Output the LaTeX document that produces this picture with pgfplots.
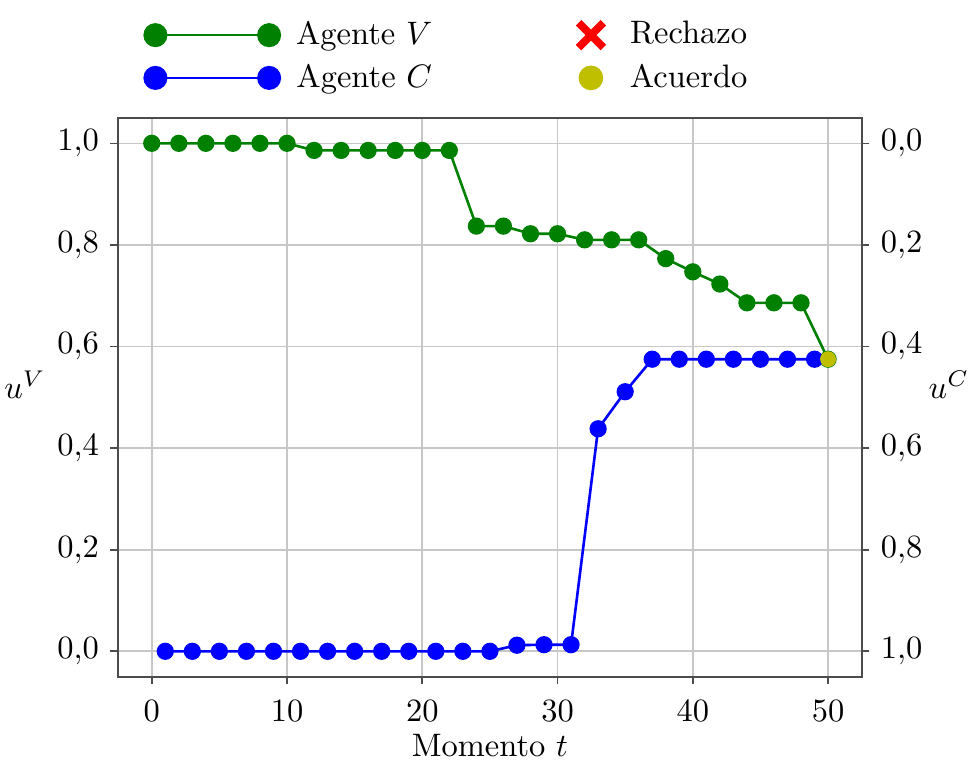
\documentclass[border=0pt]{standalone}
\usepackage{pgfplots}
\pgfplotsset{compat=1.18}
\definecolor{mgreen}{rgb}{0,0.5,0}
\definecolor{mblue}{rgb}{0,0,1}
\definecolor{myellow}{rgb}{0.75,0.75,0}
\pgfplotsset{
  lineleg/.style={legend image code/.code={\draw[##1] plot coordinates {(0pt,0pt) (35pt,0pt)};}},
  markleg/.style={legend image code/.code={\draw[##1] plot[only marks] coordinates {(0pt,0pt)};\path[draw=none,fill=none] (0pt,0pt) -- (7pt,0pt);}},
}
\pgfplotstableread{
t u
0 1.0
2 1.0
4 1.0
6 1.0
8 1.0
10 1.0
12 0.986
14 0.986
16 0.986
18 0.986
20 0.986
22 0.986
24 0.837
26 0.837
28 0.822
30 0.822
32 0.810
34 0.810
36 0.810
38 0.773
40 0.747
42 0.723
44 0.686
46 0.686
48 0.686
50 0.575
}\agentV
\pgfplotstableread{
t u
1 0.0
3 0.0
5 0.0
7 0.0
9 0.0
11 0.0
13 0.0
15 0.0
17 0.0
19 0.0
21 0.0
23 0.0
25 0.0
27 0.012
29 0.013
31 0.013
33 0.438
35 0.511
37 0.575
39 0.575
41 0.575
43 0.575
45 0.575
47 0.575
49 0.575
}\agentC
\begin{document}
\begin{tikzpicture}
\useasboundingbox (-36.3pt,-26.2pt) rectangle (263.2pt,208.3pt);
\pgfplotsset{
  common/.style={
    scale only axis, width=229pt, height=172pt,
    xmin=-2.5, xmax=52.5, ymin=-0.05, ymax=1.05,
    ytick={0,0.2,0.4,0.6,0.8,1},
    yticklabel style={/pgf/number format/.cd, use comma, fixed, fixed zerofill, precision=1},
    axis line style={black!70, line width=0.6pt},
    tick style={black!70, line width=0.5pt},
    tick align=outside, major tick length=2.3pt,
  }
}
\begin{axis}[common, name=main, at={(0pt,0pt)}, anchor=south west,
  xtick={0,10,20,30,40,50}, xtick pos=bottom, ytick pos=left,
  xticklabel style={yshift=-1.5pt},
  grid=major, grid style={black!22, line width=0.5pt},
  xlabel={Momento $t$},
  ylabel={$u^V$},
  every axis y label/.style={at={(axis description cs:-0.125,0.523)}, anchor=center},
  every axis x label/.style={at={(axis description cs:0.5,-0.124)}, anchor=center},
  legend style={at={(axis description cs:0.022,1.022)}, anchor=south west, draw=none, fill=none,
    legend columns=2, row sep=0.5pt,
    /tikz/every odd column/.append style={column sep=3pt},
    /tikz/column 2/.append style={column sep=43pt}},
]
\addplot[mgreen, line width=0.8pt, mark=*, mark size=2.25pt, forget plot] table[x=t,y=u] {\agentV};
\addplot[mblue, line width=0.8pt, mark=*, mark size=2.25pt, forget plot] table[x=t,y=u] {\agentC};
\addplot[only marks, myellow, mark=*, mark size=2.25pt, forget plot] coordinates {(50,0.575)};
\addlegendimage{mgreen, line width=0.8pt, mark=*, mark size=3.3pt, lineleg}
\addlegendentry{Agente $V$}
\addlegendimage{red, mark=x, mark size=5.4pt, line width=2.4pt, markleg}
\addlegendentry{Rechazo}
\addlegendimage{mblue, line width=0.8pt, mark=*, mark size=3.3pt, lineleg}
\addlegendentry{Agente $C$}
\addlegendimage{myellow, mark=*, mark size=3.6pt, markleg}
\addlegendentry{Acuerdo}
\end{axis}
\begin{axis}[common, at={(main.south west)}, anchor=south west,
  axis x line=none, axis y line*=right, y dir=reverse,
  ylabel={$u^C$},
  every axis y label/.style={at={(axis description cs:1.117,0.523)}, anchor=center},
]
\addplot[draw=none, forget plot] coordinates {(0,0)};
\end{axis}
\end{tikzpicture}
\end{document}
